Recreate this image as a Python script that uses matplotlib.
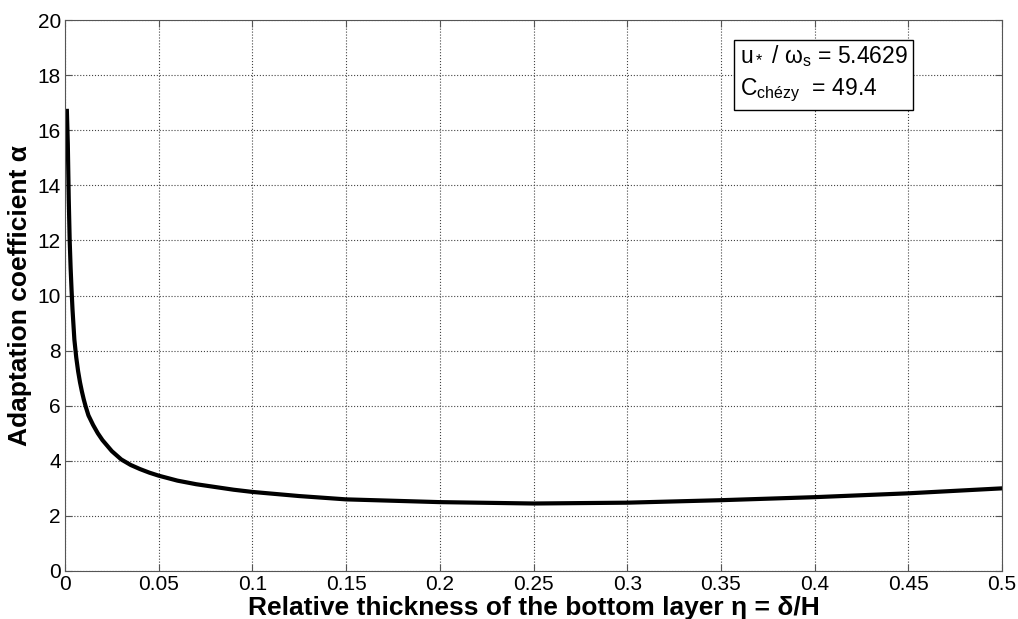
import numpy as np
import matplotlib.pyplot as plt

# curve: relative thickness eta vs adaptation coefficient alpha
eta = [0.001, 0.0015, 0.002, 0.0025, 0.003, 0.0035, 0.004, 0.005, 0.006, 0.007,
       0.008, 0.009, 0.01, 0.011, 0.0125, 0.015, 0.0175, 0.02, 0.025, 0.03,
       0.035, 0.04, 0.045, 0.05, 0.06, 0.07, 0.08, 0.09, 0.1, 0.125,
       0.15, 0.2, 0.25, 0.3, 0.35, 0.4, 0.45, 0.5]
alpha = [16.7, 15.5, 13.5, 12.0, 11.0, 10.2, 9.5, 8.4, 7.75, 7.25,
         6.85, 6.52, 6.23, 5.98, 5.65, 5.3, 5.0, 4.75, 4.35, 4.05,
         3.85, 3.7, 3.57, 3.46, 3.28, 3.15, 3.05, 2.95, 2.87, 2.72,
         2.6, 2.5, 2.45, 2.48, 2.57, 2.68, 2.82, 3.0]

xticks = [0, 0.05, 0.1, 0.15, 0.2, 0.25, 0.3, 0.35, 0.4, 0.45, 0.5]
xticklabels = ['0', '0.05', '0.1', '0.15', '0.2', '0.25', '0.3', '0.35', '0.4', '0.45', '0.5']
yticks = list(range(0, 21, 2))

plt.rcParams['font.family'] = ['Liberation Sans', 'DejaVu Sans']
plt.rcParams['mathtext.fontset'] = 'custom'
plt.rcParams['mathtext.rm'] = 'Liberation Sans'
plt.rcParams['mathtext.it'] = 'Liberation Sans'
plt.rcParams['mathtext.bf'] = 'Liberation Sans:bold'

fig = plt.figure(figsize=(10.18, 6.19), dpi=100)
ax = fig.add_axes([65/1018, 1 - 571/619, (1002 - 65)/1018, (571 - 20)/619])

ax.plot(eta, alpha, color='black', linewidth=3)

ax.set_xlim(0, 0.5)
ax.set_ylim(0, 20)
ax.set_xticks(xticks)
ax.set_xticklabels(xticklabels)
ax.set_yticks(yticks)
ax.tick_params(direction='in', labelsize=15, length=5, top=True, right=True,
               colors='#555555', labelcolor='black', pad=3)
ax.grid(True, linestyle=':', color='#444444', linewidth=0.8)
for s in ax.spines.values():
    s.set_color('#555555')

ax.set_xlabel('Relative thickness of the bottom layer η = δ/H', fontsize=19, fontweight='bold', labelpad=1)
ax.set_ylabel('Adaptation coefficient α', fontsize=19, fontweight='bold', labelpad=4)

ax.text(0.72, 0.958, 'u$_*$ / ω$_{\\mathrm{s}}$ = 5.4629\nC$_{\\mathrm{chézy}}$  = 49.4',
        transform=ax.transAxes, fontsize=16.5, va='top', ha='left', linespacing=1.4,
        bbox=dict(boxstyle='square,pad=0.25', facecolor='white', edgecolor='black', linewidth=1))

fig.savefig('out.png', dpi=100)
